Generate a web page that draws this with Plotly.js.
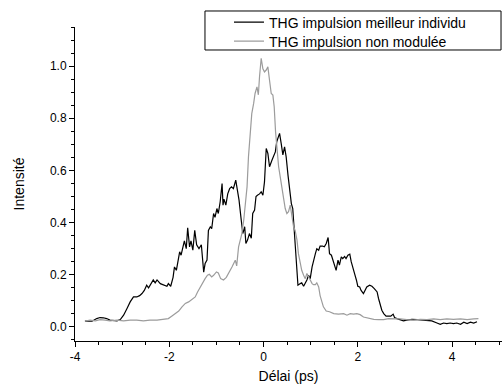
<!DOCTYPE html>
<html>
<head>
<meta charset="utf-8">
<script src="https://cdn.plot.ly/plotly-3.0.1.min.js"></script>
<style>html,body{margin:0;padding:0;background:#fff;}#chart{width:502px;height:388px;}</style>
</head>
<body>
<div id="chart"></div>
<script>
// Series 1: THG impulsion meilleur individu
const delaiMeilleur = [-3.79,-3.64,-3.54,-3.47,-3.40,-3.33,-3.26,-3.18,-3.11,-3.04,-2.97,-2.90,-2.83,-2.76,-2.69,-2.63,-2.58,-2.53,-2.48,-2.44,-2.39,-2.34,-2.30,-2.26,-2.19,-2.12,-2.05,-2.02,-1.97,-1.92,-1.89,-1.85,-1.82,-1.78,-1.75,-1.71,-1.68,-1.64,-1.61,-1.57,-1.54,-1.50,-1.46,-1.42,-1.37,-1.32,-1.27,-1.24,-1.20,-1.17,-1.13,-1.10,-1.06,-1.03,-0.99,-0.96,-0.92,-0.88,-0.86,-0.84,-0.80,-0.76,-0.72,-0.68,-0.64,-0.59,-0.55,-0.52,-0.48,-0.44,-0.40,-0.375,-0.34,-0.30,-0.26,-0.23,-0.19,-0.16,-0.13,-0.085,-0.05,-0.014,0.02,0.057,0.092,0.127,0.18,0.21,0.25,0.28,0.34,0.375,0.41,0.446,0.48,0.52,0.55,0.59,0.62,0.66,0.69,0.73,0.78,0.81,0.85,0.885,0.92,0.955,0.99,1.03,1.06,1.10,1.13,1.17,1.20,1.25,1.29,1.33,1.37,1.40,1.44,1.47,1.51,1.54,1.58,1.61,1.65,1.68,1.72,1.75,1.79,1.83,1.86,1.90,1.93,1.97,2.00,2.04,2.07,2.12,2.16,2.19,2.25,2.30,2.35,2.41,2.44,2.48,2.51,2.55,2.60,2.65,2.70,2.75,2.78,2.83,2.90,2.97,3.04,3.15,3.26,3.36,3.47,3.57,3.68,3.75,3.82,3.89,3.96,4.03,4.10,4.18,4.25,4.32,4.39,4.46,4.53];
const intensiteMeilleur = [0.022,0.022,0.032,0.036,0.035,0.032,0.026,0.023,0.023,0.028,0.045,0.07,0.096,0.115,0.115,0.12,0.128,0.14,0.16,0.15,0.166,0.18,0.169,0.18,0.166,0.16,0.156,0.166,0.156,0.19,0.23,0.217,0.25,0.288,0.275,0.307,0.33,0.30,0.38,0.307,0.33,0.294,0.37,0.315,0.30,0.315,0.21,0.243,0.256,0.37,0.384,0.377,0.435,0.42,0.454,0.435,0.48,0.55,0.467,0.49,0.467,0.51,0.53,0.537,0.53,0.563,0.52,0.486,0.42,0.358,0.384,0.32,0.333,0.358,0.34,0.435,0.448,0.50,0.505,0.51,0.518,0.505,0.556,0.684,0.665,0.614,0.64,0.652,0.671,0.71,0.742,0.703,0.66,0.69,0.652,0.58,0.524,0.473,0.454,0.358,0.262,0.16,0.166,0.169,0.156,0.166,0.18,0.198,0.185,0.23,0.256,0.281,0.30,0.294,0.31,0.31,0.307,0.32,0.343,0.281,0.275,0.256,0.23,0.217,0.256,0.237,0.269,0.262,0.27,0.262,0.275,0.279,0.25,0.217,0.205,0.18,0.156,0.153,0.14,0.128,0.14,0.153,0.16,0.156,0.147,0.134,0.109,0.083,0.064,0.051,0.041,0.041,0.041,0.049,0.036,0.032,0.028,0.023,0.026,0.029,0.028,0.026,0.026,0.023,0.015,0.010,0.015,0.013,0.015,0.013,0.015,0.010,0.018,0.013,0.018,0.015,0.020];

// Series 2: THG impulsion non modulée
const delaiNonModulee = [-3.79,-3.68,-3.57,-3.47,-3.36,-3.26,-3.11,-2.97,-2.83,-2.69,-2.55,-2.41,-2.26,-2.12,-2.02,-1.95,-1.88,-1.80,-1.73,-1.66,-1.59,-1.52,-1.45,-1.40,-1.34,-1.29,-1.24,-1.19,-1.15,-1.10,-1.06,-1.00,-0.96,-0.91,-0.85,-0.79,-0.72,-0.67,-0.60,-0.57,-0.53,-0.50,-0.46,-0.42,-0.39,-0.35,-0.32,-0.28,-0.25,-0.21,-0.18,-0.14,-0.11,-0.085,-0.05,-0.014,0.02,0.057,0.092,0.127,0.163,0.198,0.226,0.255,0.28,0.32,0.354,0.39,0.425,0.46,0.495,0.53,0.566,0.60,0.637,0.67,0.71,0.74,0.78,0.81,0.85,0.885,0.92,0.955,0.99,1.03,1.06,1.10,1.13,1.17,1.20,1.24,1.27,1.33,1.40,1.49,1.59,1.70,1.77,1.84,1.91,1.98,2.05,2.12,2.19,2.26,2.34,2.44,2.55,2.65,2.76,2.90,3.04,3.18,3.33,3.47,3.61,3.75,3.89,4.03,4.18,4.32,4.46,4.56];
const intensiteNonModulee = [0.022,0.026,0.023,0.028,0.026,0.023,0.026,0.023,0.026,0.026,0.023,0.026,0.026,0.028,0.032,0.041,0.051,0.061,0.077,0.09,0.096,0.105,0.115,0.134,0.153,0.173,0.185,0.198,0.202,0.192,0.198,0.211,0.207,0.185,0.18,0.19,0.211,0.23,0.256,0.234,0.307,0.333,0.358,0.41,0.46,0.537,0.652,0.742,0.818,0.857,0.895,0.92,0.89,0.96,1.03,0.99,0.978,0.985,0.997,0.946,0.895,0.889,0.844,0.748,0.69,0.614,0.575,0.537,0.499,0.454,0.435,0.442,0.467,0.42,0.384,0.37,0.333,0.281,0.243,0.217,0.198,0.185,0.205,0.192,0.18,0.166,0.162,0.162,0.169,0.153,0.12,0.096,0.077,0.061,0.058,0.051,0.049,0.051,0.045,0.051,0.049,0.051,0.047,0.038,0.035,0.032,0.029,0.028,0.028,0.032,0.032,0.031,0.028,0.026,0.029,0.028,0.031,0.028,0.031,0.029,0.031,0.028,0.031,0.032];

const seriesNames = ["THG impulsion meilleur individu", "THG impulsion non modulée"];
const xTickVals = [-4, -2, 0, 2, 4];
const xTickText = ["-4", "-2", "0", "2", "4"];

const font = "Arial, 'Liberation Sans', sans-serif";

const traces = [
  {x: delaiMeilleur, y: intensiteMeilleur, name: seriesNames[0], type: "scatter", mode: "lines",
   line: {color: "#000000", width: 1.2}, legend: "legend"},
  {x: delaiNonModulee, y: intensiteNonModulee, name: seriesNames[1], type: "scatter", mode: "lines",
   line: {color: "#9c9c9c", width: 1.2}, legend: "legend2"}
];

const legendStyle = {xanchor: "left", yanchor: "middle", borderwidth: 0, bgcolor: "rgba(0,0,0,0)",
  font: {family: font, size: 14, color: "#000"}, indentation: 24};

const layout = {
  width: 502, height: 388,
  margin: {l: 75, r: 0, t: 27, b: 47, pad: 0},
  paper_bgcolor: "#ffffff", plot_bgcolor: "#ffffff",
  font: {family: font, size: 12, color: "#000"},
  showlegend: true,
  legend: Object.assign({x: 0.3044, y: 1.0143}, legendStyle),
  legend2: Object.assign({x: 0.3044, y: 0.9538}, legendStyle),
  shapes: [{type: "rect", xref: "paper", yref: "paper", x0: 0.3044, x1: 0.9977, y0: 0.9268, y1: 1.051,
    line: {color: "#000", width: 1}, fillcolor: "rgba(0,0,0,0)", layer: "below"}],
  xaxis: {
    range: [-4.001, 5.06], showgrid: false, zeroline: false,
    showline: true, linecolor: "#000", linewidth: 1,
    ticks: "outside", ticklen: 5, tickwidth: 1, tickcolor: "#000",
    tickmode: "array", tickvals: xTickVals, ticktext: xTickText,
    minor: {dtick: 0.5, tick0: 0, ticks: "outside", ticklen: 3, tickcolor: "#000", showgrid: false},
    tickfont: {family: font, size: 12},
    title: {text: "Délai (ps)", font: {family: font, size: 14}, standoff: 7}
  },
  yaxis: {
    range: [-0.054, 1.15], showgrid: false, zeroline: false,
    showline: true, linecolor: "#000", linewidth: 1,
    ticks: "outside", ticklen: 5, tickwidth: 1, tickcolor: "#000",
    tick0: 0, dtick: 0.2, tickformat: ".1f",
    minor: {dtick: 0.05, tick0: 0, ticks: "outside", ticklen: 3, tickcolor: "#000", showgrid: false},
    tickfont: {family: font, size: 12},
    title: {text: "Intensité", font: {family: font, size: 14}, standoff: 22}
  }
};

Plotly.newPlot("chart", traces, layout, {displayModeBar: false, staticPlot: true});
</script>
</body>
</html>
